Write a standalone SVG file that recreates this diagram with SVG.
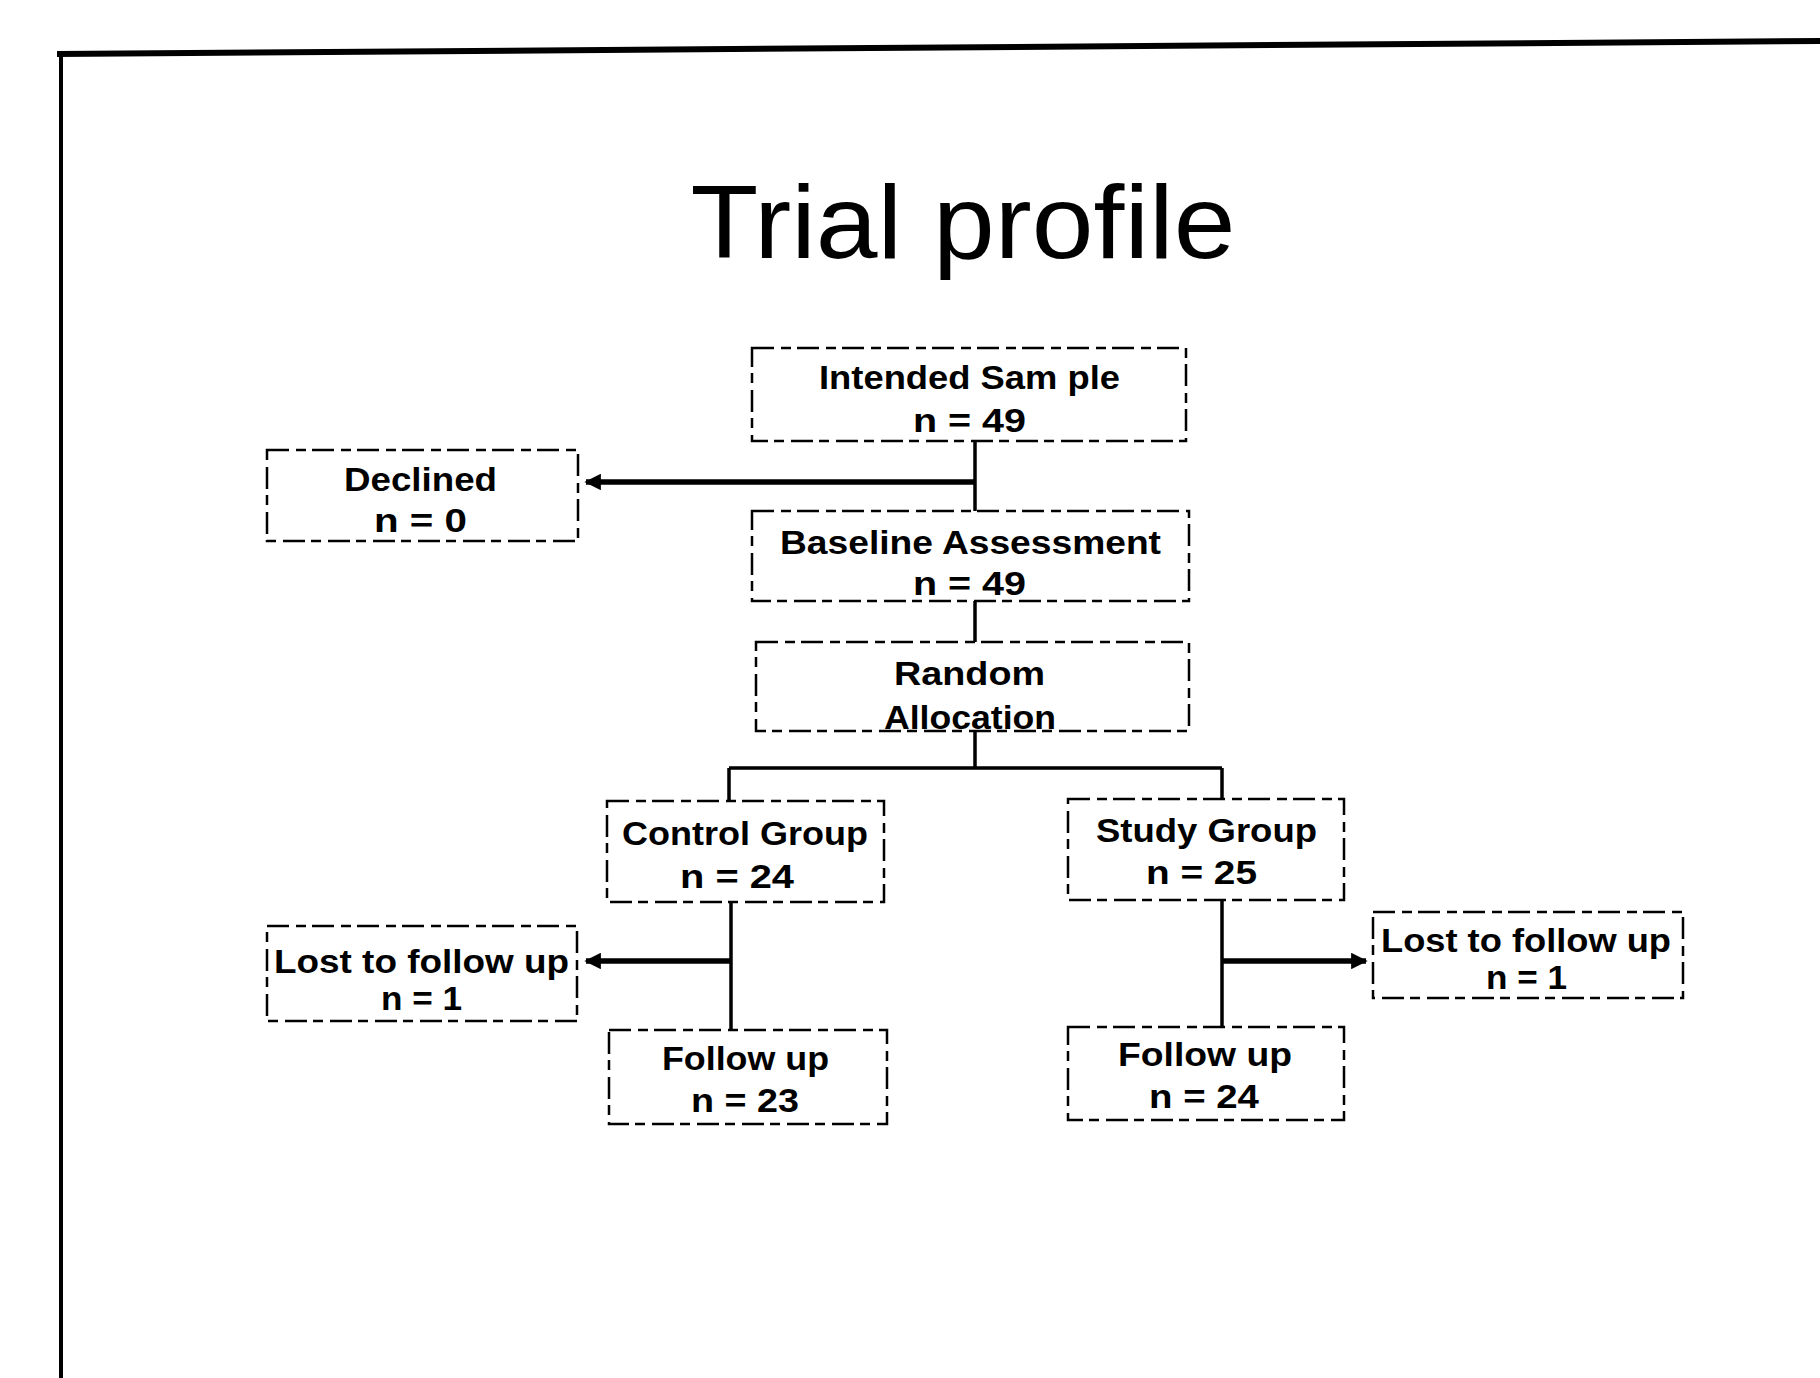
<svg xmlns="http://www.w3.org/2000/svg" width="1820" height="1378" viewBox="0 0 1820 1378">
<defs>
<style>
.box{fill:none;stroke:#000;stroke-width:2.5;stroke-dasharray:22 7 10 6}
.t{font-family:"Liberation Sans",Arial,sans-serif;font-weight:bold;font-size:33px;fill:#000}
.c{fill:none;stroke:#000;stroke-width:3.5}
.ca{fill:none;stroke:#000;stroke-width:5.5}
.title{font-family:"Liberation Sans",Arial,sans-serif;font-size:104px;fill:#000}
</style>
<marker id="arr" viewBox="0 0 10 10" refX="9" refY="5" markerWidth="3" markerHeight="3" orient="auto">
<path d="M0,0 L10,5 L0,10 z" fill="#000"/>
</marker>
</defs>
<rect width="1820" height="1378" fill="#fff"/>
<g id="frame">
<path d="M57,54 L1820,41" stroke="#000" stroke-width="6" fill="none"/>
<path d="M61,52 L61,1378" stroke="#000" stroke-width="4" fill="none"/>
</g>
<text class="title" x="963" y="258" text-anchor="middle" textLength="545" lengthAdjust="spacingAndGlyphs">Trial profile</text>
<g id="connectors">
<path class="c" d="M975,441 V511"/>
<path class="ca" d="M975,482 H586" marker-end="url(#arr)"/>
<path class="c" d="M975,601 V642"/>
<path class="c" d="M975,731 V768 M729,768 H1222 M729,768 V801 M1222,768 V799"/>
<path class="c" d="M731,902 V1030"/>
<path class="ca" d="M731,961 H586" marker-end="url(#arr)"/>
<path class="c" d="M1222,900 V1027"/>
<path class="ca" d="M1222,961 H1366" marker-end="url(#arr)"/>
</g>
<g id="intended">
<rect class="box" x="752" y="348" width="434" height="93"/>
<text class="t" x="819" y="389" textLength="301" lengthAdjust="spacingAndGlyphs">Intended Sam ple</text>
<text class="t" x="913" y="432" textLength="113" lengthAdjust="spacingAndGlyphs">n = 49</text>
</g>
<g id="declined">
<rect class="box" x="267" y="450" width="311" height="91"/>
<text class="t" x="344" y="491" textLength="153" lengthAdjust="spacingAndGlyphs">Declined</text>
<text class="t" x="374" y="532" textLength="93" lengthAdjust="spacingAndGlyphs">n = 0</text>
</g>
<g id="baseline">
<rect class="box" x="752" y="511" width="437" height="90"/>
<text class="t" x="780" y="554" textLength="381" lengthAdjust="spacingAndGlyphs">Baseline Assessment</text>
<text class="t" x="913" y="595" textLength="113" lengthAdjust="spacingAndGlyphs">n = 49</text>
</g>
<g id="random">
<rect class="box" x="756" y="642" width="433" height="89"/>
<text class="t" x="894" y="685" textLength="151" lengthAdjust="spacingAndGlyphs">Random</text>
<text class="t" x="884" y="729" textLength="172" lengthAdjust="spacingAndGlyphs">Allocation</text>
</g>
<g id="control">
<rect class="box" x="607" y="801" width="277" height="101"/>
<text class="t" x="622" y="845" textLength="246" lengthAdjust="spacingAndGlyphs">Control Group</text>
<text class="t" x="680" y="888" textLength="114" lengthAdjust="spacingAndGlyphs">n = 24</text>
</g>
<g id="study">
<rect class="box" x="1068" y="799" width="276" height="101"/>
<text class="t" x="1096" y="842" textLength="221" lengthAdjust="spacingAndGlyphs">Study Group</text>
<text class="t" x="1146" y="884" textLength="111" lengthAdjust="spacingAndGlyphs">n = 25</text>
</g>
<g id="lost-left">
<rect class="box" x="267" y="926" width="310" height="95"/>
<text class="t" x="274" y="973" textLength="295" lengthAdjust="spacingAndGlyphs">Lost to follow up</text>
<text class="t" x="381" y="1010" textLength="81" lengthAdjust="spacingAndGlyphs">n = 1</text>
</g>
<g id="lost-right">
<rect class="box" x="1373" y="912" width="310" height="86"/>
<text class="t" x="1381" y="952" textLength="290" lengthAdjust="spacingAndGlyphs">Lost to follow up</text>
<text class="t" x="1486" y="989" textLength="81" lengthAdjust="spacingAndGlyphs">n = 1</text>
</g>
<g id="follow-left">
<rect class="box" x="609" y="1030" width="278" height="94"/>
<text class="t" x="662" y="1070" textLength="167" lengthAdjust="spacingAndGlyphs">Follow up</text>
<text class="t" x="691" y="1112" textLength="108" lengthAdjust="spacingAndGlyphs">n = 23</text>
</g>
<g id="follow-right">
<rect class="box" x="1068" y="1027" width="276" height="93"/>
<text class="t" x="1118" y="1066" textLength="174" lengthAdjust="spacingAndGlyphs">Follow up</text>
<text class="t" x="1149" y="1108" textLength="110" lengthAdjust="spacingAndGlyphs">n = 24</text>
</g>
</svg>
